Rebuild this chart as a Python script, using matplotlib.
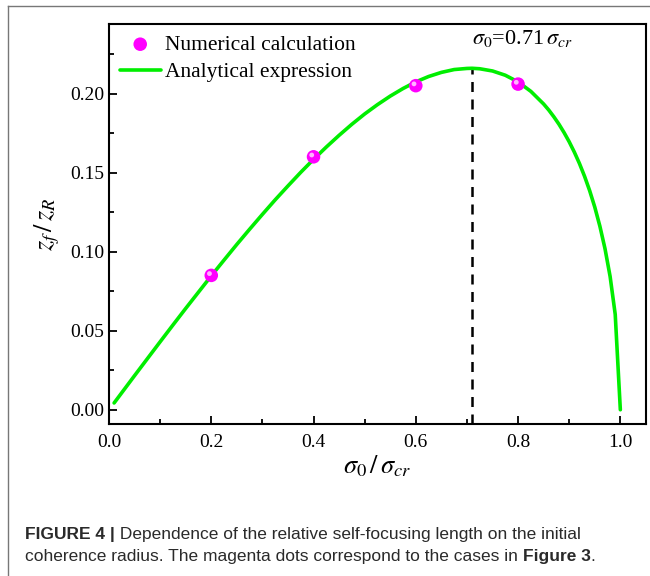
import matplotlib
matplotlib.use('Agg')
import matplotlib.pyplot as plt
import matplotlib.transforms as mtransforms
from matplotlib.lines import Line2D
from matplotlib.ticker import MultipleLocator

plt.rcParams['font.family'] = 'Liberation Serif'
plt.rcParams['mathtext.fontset'] = 'stix'

# analytical curve, values
x_curve = [0.01, 0.025, 0.05, 0.075, 0.10, 0.125, 0.15, 0.175, 0.20, 0.225,
           0.25, 0.275, 0.30, 0.325, 0.35, 0.375, 0.40, 0.425, 0.45, 0.475,
           0.50, 0.525, 0.55, 0.575, 0.60, 0.625, 0.65, 0.675, 0.70, 0.71,
           0.725, 0.75, 0.775, 0.80, 0.825, 0.85, 0.86, 0.87, 0.88, 0.89,
           0.90, 0.91, 0.92, 0.93, 0.94, 0.95, 0.96, 0.97, 0.98, 0.99, 1.00]
y_curve = [0.0043, 0.0108, 0.0216, 0.0323, 0.0430, 0.0536, 0.0641, 0.0744,
           0.0847, 0.0947, 0.1046, 0.1142, 0.1236, 0.1328, 0.1416, 0.1502,
           0.1584, 0.1662, 0.1736, 0.1806, 0.1871, 0.1930, 0.1984, 0.2032,
           0.2074, 0.2108, 0.2134, 0.2152, 0.2159, 0.2160, 0.2157, 0.2143,
           0.2116, 0.2074, 0.2014, 0.1934, 0.1896, 0.1853, 0.1806, 0.1753,
           0.1695, 0.1630, 0.1558, 0.1477, 0.1386, 0.1282, 0.1161, 0.1019,
           0.0843, 0.0603, 0.0]

# numerical calculation (magenta dots)
x_num = [0.2, 0.4, 0.6, 0.8]
y_num = [0.085, 0.160, 0.205, 0.206]

# optimum marked by the dashed line
sigma_opt = 0.71
zf_peak = 0.216

fig = plt.figure(figsize=(6.5, 5.76), dpi=100)
ax = fig.add_axes([0.1677, 0.2639, 0.826, 0.6944])

ax.plot(x_curve, y_curve, color='#00ee00', lw=2.6, solid_capstyle='round',
        solid_joinstyle='round', label='Analytical expression', zorder=3)
ax.scatter(x_num, y_num, s=95, color='#ff00ff', edgecolors='none',
           label='Numerical calculation', zorder=4)
# little highlight on the spheres
hl = mtransforms.offset_copy(ax.transData, fig=fig, x=-1.3, y=1.3, units='points')
ax.scatter(x_num, y_num, s=12, color='#ffb3ff', edgecolors='none',
           transform=hl, zorder=5)

ax.set_xlim(0, 1.05)
ax.set_ylim(-0.009, 0.244)
ax.vlines(sigma_opt, ax.get_ylim()[0], zf_peak, colors='black', lw=1.8,
          linestyles=(0, (4, 3)), zorder=2)
ax.text(sigma_opt, 0.2285, r'$\sigma_0$=0.71$\,\sigma_{cr}$', fontsize=16,
        ha='left', va='bottom')

ax.xaxis.set_major_locator(MultipleLocator(0.2))
ax.xaxis.set_minor_locator(MultipleLocator(0.1))
ax.yaxis.set_major_locator(MultipleLocator(0.05))
ax.yaxis.set_minor_locator(MultipleLocator(0.025))
ax.xaxis.set_major_formatter(lambda v, p: f'{v:.1f}')
ax.yaxis.set_major_formatter(lambda v, p: f'{v:.2f}')
ax.tick_params(which='both', direction='in', width=1.3, labelsize=14,
               top=False, right=False)
ax.tick_params(which='major', length=6)
ax.tick_params(which='minor', length=3.5)
ax.tick_params(axis='x', pad=7)
for sp in ax.spines.values():
    sp.set_linewidth(1.5)

ax.set_xlabel(r'$\sigma_0\,/\,\sigma_{cr}$', fontsize=19, labelpad=2)
ax.set_ylabel(r'$z_f\,/\,z_R$', fontsize=19, labelpad=6)

handles, labels = ax.get_legend_handles_labels()
ax.legend(handles[::-1], labels[::-1], loc='upper left', frameon=False,
          prop={'family': 'Liberation Serif', 'size': 15.5},
          handlelength=1.9, handletextpad=0.2, labelspacing=0.35,
          borderaxespad=0.1, bbox_to_anchor=(0.0, 1.0))

# outer frame of the figure panel
fig.add_artist(Line2D([8 / 650, 8 / 650], [0, 1 - 6 / 576], color='#777777', lw=1))
fig.add_artist(Line2D([8 / 650, 1], [1 - 6 / 576, 1 - 6 / 576], color='#777777', lw=1))

# caption
cap = dict(family='Liberation Sans', fontsize=12.5, color='#2a2a2a')
t1 = fig.text(25 / 650, 1 - 539 / 576, 'FIGURE 4 |', weight='bold', va='baseline', **cap)
ax.annotate(' Dependence of the relative self-focusing length on the initial',
            xy=(1, 0), xycoords=t1, va='bottom', ha='left', **cap)
t3 = fig.text(25 / 650, 1 - 561 / 576,
              'coherence radius. The magenta dots correspond to the cases in ',
              va='baseline', **cap)
t4 = ax.annotate('Figure 3', xy=(1, 0), xycoords=t3, va='bottom', ha='left',
                 weight='bold', **cap)
ax.annotate('.', xy=(1, 0), xycoords=t4, va='bottom', ha='left', **cap)

fig.savefig('out.png', dpi=100)
